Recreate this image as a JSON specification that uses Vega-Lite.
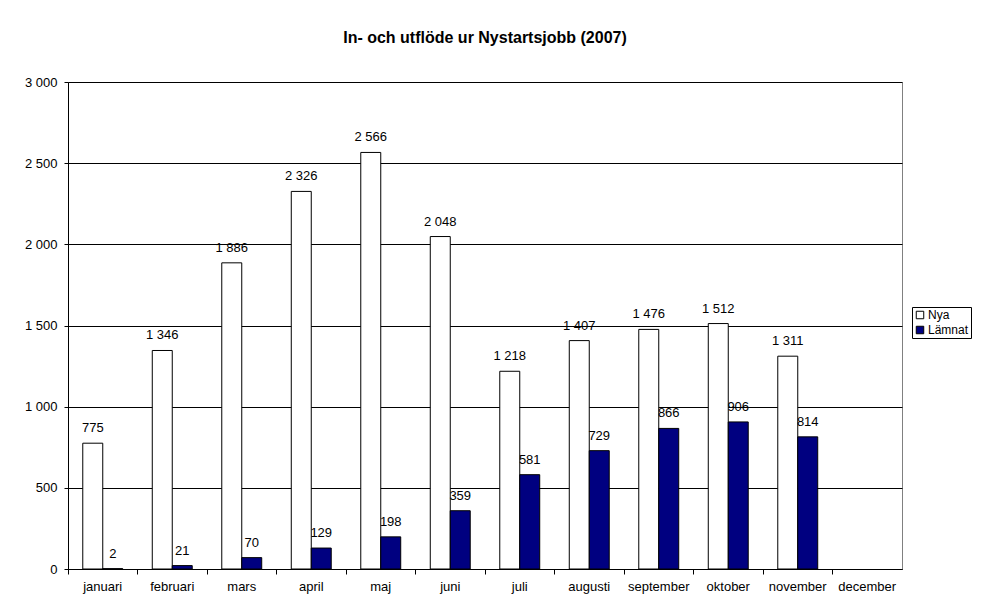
{
  "$schema": "https://vega.github.io/schema/vega-lite/v6.json",
  "width": 834,
  "height": 487,
  "autosize": "none",
  "padding": {"left": 68, "top": 82, "right": 80, "bottom": 37},
  "background": "white",
  "title": {"text": "In- och utflöde ur Nystartsjobb (2007)", "font": "Liberation Sans", "fontSize": 16, "fontWeight": "bold", "offset": 30, "anchor": "middle", "color": "black"},
  "config": {
    "locale": {"number": {"decimal": ",", "thousands": " ", "grouping": [3], "currency": ["", " kr"]}},
    "view": {"stroke": "#808080", "strokeWidth": 1},
    "font": "Liberation Sans"
  },
  "data": {"values": [
    {"month": "januari", "serie": "Nya", "value": 775},
    {"month": "januari", "serie": "Lämnat", "value": 2},
    {"month": "februari", "serie": "Nya", "value": 1346},
    {"month": "februari", "serie": "Lämnat", "value": 21},
    {"month": "mars", "serie": "Nya", "value": 1886},
    {"month": "mars", "serie": "Lämnat", "value": 70},
    {"month": "april", "serie": "Nya", "value": 2326},
    {"month": "april", "serie": "Lämnat", "value": 129},
    {"month": "maj", "serie": "Nya", "value": 2566},
    {"month": "maj", "serie": "Lämnat", "value": 198},
    {"month": "juni", "serie": "Nya", "value": 2048},
    {"month": "juni", "serie": "Lämnat", "value": 359},
    {"month": "juli", "serie": "Nya", "value": 1218},
    {"month": "juli", "serie": "Lämnat", "value": 581},
    {"month": "augusti", "serie": "Nya", "value": 1407},
    {"month": "augusti", "serie": "Lämnat", "value": 729},
    {"month": "september", "serie": "Nya", "value": 1476},
    {"month": "september", "serie": "Lämnat", "value": 866},
    {"month": "oktober", "serie": "Nya", "value": 1512},
    {"month": "oktober", "serie": "Lämnat", "value": 906},
    {"month": "november", "serie": "Nya", "value": 1311},
    {"month": "november", "serie": "Lämnat", "value": 814}
  ]},
  "encoding": {
    "x": {
      "field": "month", "type": "nominal",
      "scale": {"domain": ["januari","februari","mars","april","maj","juni","juli","augusti","september","oktober","november","december"], "paddingInner": 0, "paddingOuter": 0},
      "axis": {"title": null, "labelAngle": 0, "labelFont": "Liberation Sans", "labelFontSize": 13, "labelColor": "black", "tickColor": "black", "domainColor": "black", "tickSize": 5, "labelPadding": 6, "bandPosition": 0, "grid": false}
    },
    "xOffset": {"field": "serie", "type": "nominal", "scale": {"domain": ["Nya", "Lämnat"], "paddingInner": 0, "paddingOuter": 0.74}},
    "y": {
      "field": "value", "type": "quantitative",
      "scale": {"domain": [0, 3000], "nice": false},
      "axis": {"title": null, "values": [0,500,1000,1500,2000,2500,3000], "labelExpr": "format(datum.value, ',.0f')", "labelFont": "Liberation Sans", "labelFontSize": 13, "labelColor": "black", "tickColor": "black", "domainColor": "black", "tickSize": 4, "labelPadding": 7, "grid": true, "gridColor": "black", "gridWidth": 1}
    }
  },
  "layer": [
    {
      "mark": {"type": "bar", "stroke": "black", "strokeWidth": 1},
      "encoding": {
        "fill": {"field": "serie", "type": "nominal",
          "scale": {"domain": ["Nya", "Lämnat"], "range": ["white", "#000080"]},
          "legend": {"title": null, "orient": "none", "legendX": 844, "legendY": 225, "symbolType": "square", "symbolSize": 56, "symbolStrokeColor": "black", "symbolStrokeWidth": 1, "labelFont": "Liberation Sans", "labelFontSize": 12, "labelColor": "black", "strokeColor": "black", "padding": 2, "rowPadding": 3, "symbolOffset": 0, "labelOffset": 2, "fillColor": "white"}
        }
      }
    },
    {
      "mark": {"type": "text", "baseline": "middle", "align": "center", "dy": -15, "font": "Liberation Sans", "fontSize": 13, "color": "black"},
      "encoding": {"text": {"field": "value", "type": "quantitative", "format": ","}}
    }
  ]
}
